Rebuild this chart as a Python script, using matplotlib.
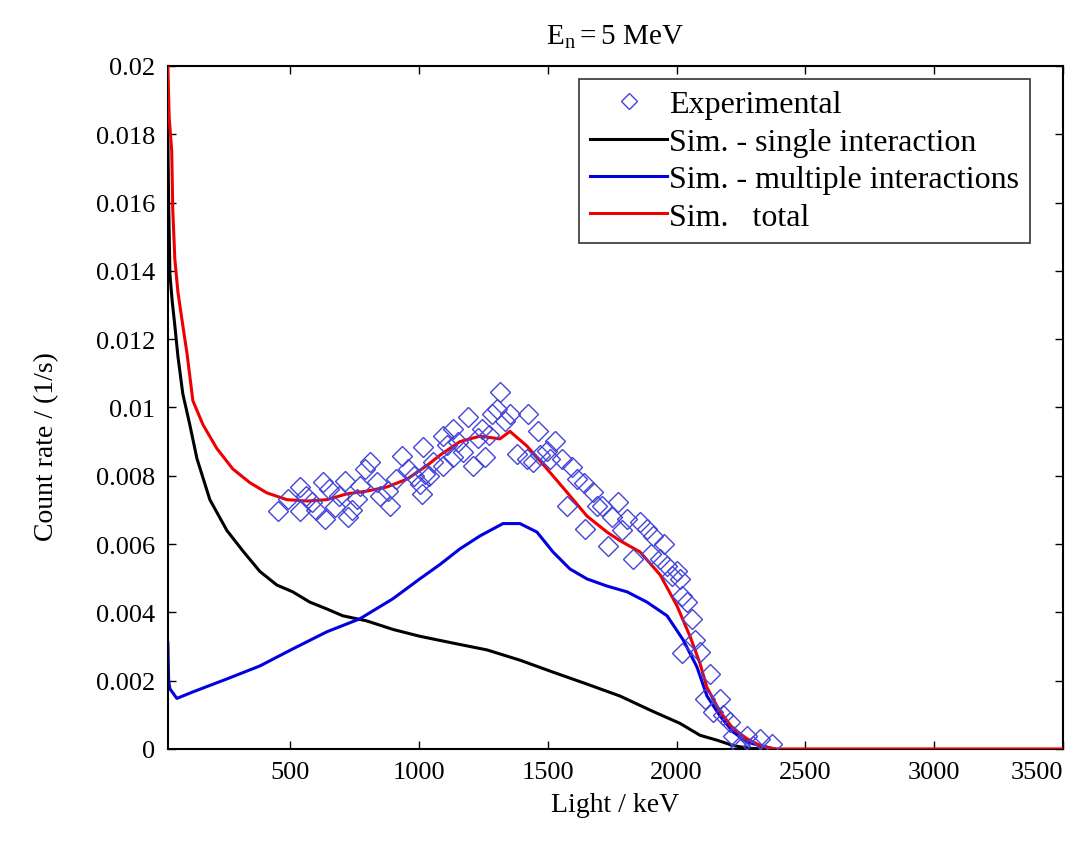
import matplotlib
matplotlib.use("Agg")
import matplotlib.pyplot as plt
from matplotlib.ticker import FuncFormatter

plt.rcParams["font.family"] = ["Liberation Serif", "DejaVu Serif"]
plt.rcParams["mathtext.fontset"] = "custom"
plt.rcParams["mathtext.rm"] = "Liberation Serif"
plt.rcParams["mathtext.it"] = "Liberation Serif"

# data
# ============================
single_x = [25, 28, 33, 42, 52, 64, 83, 110, 138, 188, 254, 316, 382, 448,
            510, 576, 642, 704, 797, 899, 1003, 1132, 1264, 1392, 1520, 1652,
            1780, 1908, 2013, 2091, 2160, 2219, 2280, 2350]
single_y = [0.0178, 0.0160, 0.0139, 0.0131, 0.0124, 0.0115, 0.0104, 0.0095,
            0.0085, 0.0073, 0.0064, 0.0058, 0.0052, 0.0048, 0.0046, 0.0043,
            0.0041, 0.0039, 0.00375, 0.0035, 0.0033, 0.0031, 0.0029, 0.0026,
            0.00225, 0.0019, 0.00155, 0.0011, 0.00075, 0.0004, 0.00025,
            0.0001, 0.00002, 0.0]

multi_x = [25, 28, 33, 60, 122, 254, 382, 510, 642, 770, 899, 1003, 1081,
           1159, 1237, 1326, 1392, 1458, 1520, 1586, 1652, 1730, 1808, 1885,
           1963, 2025, 2079, 2118, 2168, 2219, 2273, 2324, 2380]
multi_y = [0.0031, 0.0020, 0.00176, 0.00148, 0.00167, 0.00205, 0.00243,
           0.00293, 0.00343, 0.00381, 0.0044, 0.00498, 0.0054, 0.00586,
           0.00624, 0.0066, 0.0066, 0.00635, 0.00577, 0.00527, 0.00498,
           0.00477, 0.0046, 0.0043, 0.0039, 0.0032, 0.0024, 0.00155, 0.00097,
           0.0005, 0.0002, 0.0001, 0.0]

total_x = [25, 30, 40, 44, 52, 64, 83, 99, 122, 161, 215, 277, 343, 409, 487,
           565, 642, 720, 797, 875, 953, 1031, 1081, 1159, 1237, 1314, 1353,
           1419, 1497, 1574, 1652, 1730, 1780, 1858, 1936, 2001, 2052, 2091,
           2118, 2168, 2219, 2273, 2324, 2380, 3500]
total_y = [0.0200, 0.0185, 0.0175, 0.0158, 0.01435, 0.01338, 0.0124, 0.0116,
           0.0102, 0.0095, 0.0088, 0.0082, 0.0078, 0.0075, 0.0073, 0.00726,
           0.0073, 0.00747, 0.00755, 0.00767, 0.0079, 0.0083, 0.0086, 0.0090,
           0.00916, 0.00908, 0.0093, 0.00887, 0.0082, 0.00752, 0.00682,
           0.00635, 0.0061, 0.00577, 0.0051, 0.0042, 0.0033, 0.0025, 0.0018,
           0.0011, 0.0006, 0.0003, 0.0001, 0.0, 0.0]

exp_x = [452, 491, 538, 538, 560, 584, 600, 627, 634, 650, 673, 690, 712, 724,
         740, 759, 770, 790, 809, 836, 850, 879, 887, 910, 934, 957, 980, 1003,
         1011, 1015, 1023, 1040, 1054, 1093, 1093, 1110, 1132, 1132, 1150,
         1171, 1190, 1209, 1230, 1244, 1256, 1270, 1283, 1302, 1314, 1334,
         1353, 1380, 1419, 1423, 1442, 1462, 1470, 1497, 1510, 1528, 1555,
         1574, 1594, 1613, 1640, 1644, 1675, 1690, 1710, 1733, 1750, 1772,
         1790, 1808, 1831, 1858, 1885, 1900, 1908, 1936, 1950, 1963, 1983,
         2000, 2013, 2021, 2021, 2040, 2060, 2070, 2091, 2110, 2130, 2141,
         2168, 2180, 2207, 2219, 2246, 2273, 2297, 2324, 2370]
exp_y = [0.00697, 0.00732, 0.00767, 0.00697, 0.0074, 0.00723, 0.0070,
         0.00782, 0.00673, 0.0076, 0.00709, 0.0074, 0.00785, 0.00679, 0.0070,
         0.00732, 0.0077, 0.0082, 0.0084, 0.00782, 0.0074, 0.00755, 0.00712,
         0.0079, 0.00858, 0.0082, 0.0080, 0.00776, 0.00747, 0.00884, 0.00805,
         0.0080, 0.0084, 0.00916, 0.00829, 0.0089, 0.00937, 0.00855, 0.0090,
         0.0087, 0.00972, 0.00829, 0.0091, 0.00937, 0.00855, 0.0092, 0.00981,
         0.00996, 0.01045, 0.0096, 0.00981, 0.00864, 0.00849, 0.00981, 0.0084,
         0.00931, 0.0086, 0.00873, 0.0085, 0.00902, 0.00849, 0.00712, 0.00826,
         0.0079, 0.0078, 0.00644, 0.00752, 0.0071, 0.00712, 0.00594, 0.0068,
         0.00723, 0.0064, 0.00673, 0.00556, 0.00665, 0.00644, 0.0057, 0.00624,
         0.00556, 0.0060, 0.00536, 0.00507, 0.0052, 0.00498, 0.00448, 0.0028,
         0.0043, 0.00381, 0.0032, 0.00284, 0.00146, 0.0022, 0.00108, 0.00146,
         0.0010, 0.00079, 0.00038, 0.0001, 0.00038, 0.0001, 0.00029, 0.00015]

x_ticks = [500, 1000, 1500, 2000, 2500, 3000, 3500]
y_ticks = [0, 0.002, 0.004, 0.006, 0.008, 0.01, 0.012, 0.014, 0.016, 0.018,
           0.02]

# plot
# ====
fig = plt.figure(figsize=(10.83, 8.53), dpi=100)
ax = fig.add_axes([0.155, 0.1208, 0.8265, 0.8007])

ax.plot(exp_x, exp_y, ls="none", marker="D", ms=10, mfc="none",
        mec="#4444d8", mew=1.0, label="Experimental", zorder=4)
ax.plot(single_x, single_y, color="black", lw=2.2,
        label="Sim. - single interaction")
ax.plot(multi_x, multi_y, color="#0000e0", lw=2.2,
        label="Sim. - multiple interactions")
ax.plot(total_x, total_y, color="#ee0000", lw=2.2, label="Sim.   total",
        zorder=3)

ax.set_xlim(25, 3500)
ax.set_ylim(0, 0.02)
ax.set_xticks(x_ticks)
ax.set_yticks(y_ticks)
ax.yaxis.set_major_formatter(FuncFormatter(lambda v, p: f"{v:g}"))
ax.tick_params(direction="in", top=True, right=True, length=6, width=1,
               labelsize=19, pad=9)
ax.get_xticklabels()[-1].set_horizontalalignment("right")
for s in ax.spines.values():
    s.set_linewidth(1.5)

ax.set_xlabel("Light / keV", fontsize=20, labelpad=6)
ax.set_ylabel("Count rate / (1/s)", fontsize=20)
ax.yaxis.set_label_coords(-0.122, 0.444)
ax.set_title(r"$\mathregular{E_n = 5\ MeV}$", fontsize=21, pad=16)

leg = ax.legend(loc="upper right", bbox_to_anchor=(0.963, 0.981),
                fontsize=23, frameon=True, fancybox=False, edgecolor="black",
                handlelength=2.4, handletextpad=0.05, borderpad=0.35,
                labelspacing=0.25, borderaxespad=0, markerscale=0.8)
leg.get_frame().set_linewidth(1.2)

fig.savefig("out.png", dpi=100)
